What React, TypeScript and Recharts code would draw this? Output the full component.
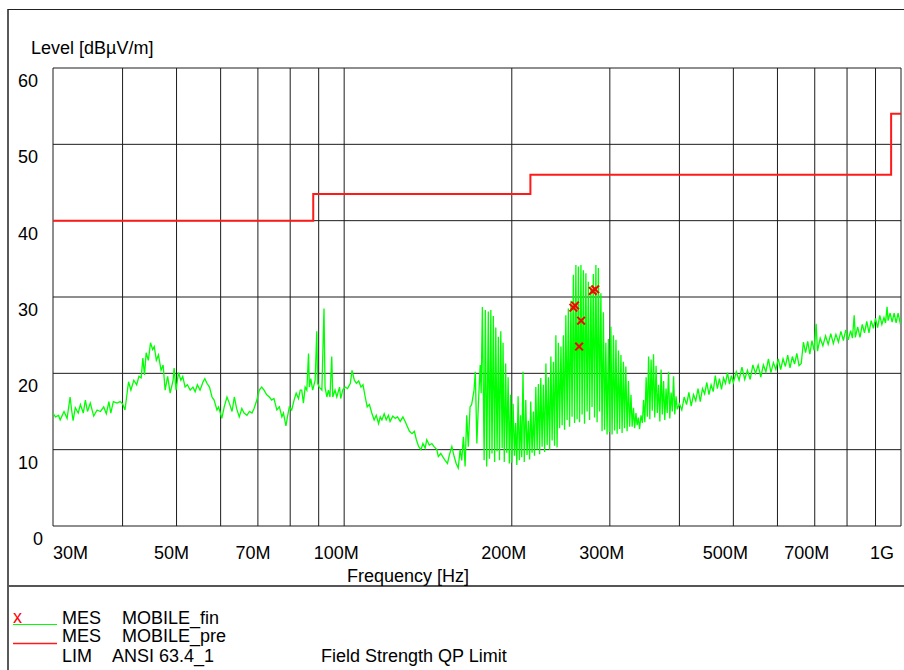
import { CartesianGrid, ComposedChart, Line, Scatter, XAxis, YAxis } from "recharts";

const FONT = "'Liberation Sans', Arial, sans-serif";

const freqTicks = [30, 40, 50, 60, 70, 80, 90, 100, 200, 300, 400, 500, 600, 700, 800, 900, 1000];
const freqLabels: Record<number, string> = {
  30: "30M", 50: "50M", 70: "70M", 100: "100M", 200: "200M",
  300: "300M", 500: "500M", 700: "700M", 1000: "1G",
};
const levelTicks = [0, 10, 20, 30, 40, 50, 60];

// ANSI 63.4 limit, MHz -> dBuV/m
const limitSteps: [number, number][] = [[30, 40], [88, 43.5], [216, 46], [960, 54], [1000, 54]];

// final measurement points
const finalMarks: [number, number][] = [
  [258.0, 28.6], [259.8, 28.9], [264.2, 23.5], [266.4, 26.9], [279.5, 30.8], [282.4, 31.0],
];

// prescan trace (MHz, dBuV/m)
const preScan: [number, number][] = [
  [30.0,14.8],[30.3,14.3],[30.7,14.5],[30.9,13.9],[31.4,15.0],[31.8,14.1],[32.2,16.9],[32.4,15.2],[32.6,13.8],[32.9,15.5],
  [33.3,14.8],[33.6,15.9],[34.0,14.8],[34.3,16.5],[34.6,15.0],[35.0,16.1],[35.5,14.4],[36.0,15.2],[36.5,15.0],[37.0,15.6],
  [37.4,14.7],[37.8,16.3],[38.1,14.8],[38.5,16.3],[39.1,16.1],[39.6,16.3],[40.0,16.0],[40.4,15.2],[41.0,18.9],[41.4,17.8],
  [41.9,19.1],[42.4,18.5],[42.8,19.6],[43.2,19.4],[43.5,22.0],[43.8,19.8],[44.1,22.7],[44.5,21.7],[44.9,24.0],[45.3,23.1],
  [45.6,23.5],[46.0,21.7],[46.4,22.4],[46.9,20.4],[47.3,21.1],[47.7,17.8],[48.2,19.6],[48.7,17.4],[49.3,19.1],[49.5,20.7],
  [49.9,17.8],[50.4,20.1],[50.9,19.1],[51.3,19.6],[51.8,18.2],[52.3,18.5],[52.9,17.8],[53.5,18.2],[54.0,17.6],[54.5,18.5],
  [55.1,17.8],[55.8,18.9],[56.2,19.3],[56.7,18.7],[57.3,18.2],[57.9,16.9],[58.4,16.5],[59.1,15.2],[59.5,15.6],[60.3,14.1],
  [60.9,15.6],[61.6,16.9],[62.2,16.1],[62.9,15.0],[63.5,16.9],[64.1,15.4],[64.8,14.3],[65.5,15.4],[66.1,14.8],[66.9,14.5],
  [67.6,15.0],[68.3,14.8],[68.9,15.4],[69.7,16.5],[70.4,17.8],[71.1,18.2],[71.8,17.8],[72.6,17.2],[73.4,16.9],[74.1,16.5],
  [74.8,16.7],[75.7,15.2],[76.5,15.6],[77.3,14.3],[77.8,14.8],[78.6,13.1],[79.1,14.3],[79.7,15.6],[80.5,15.2],[81.3,16.5],
  [82.0,17.4],[82.8,16.7],[83.4,17.8],[83.9,17.8],[84.5,16.1],[85.1,18.2],[85.7,17.8],[86.3,22.6],[86.6,18.2],[87.1,19.3],
  [87.8,17.8],[88.7,19.1],[89.3,25.5],[89.6,18.7],[90.2,18.2],[91.2,17.8],[92.0,28.5],[92.4,18.2],[93.1,16.9],[93.7,17.8],
  [94.3,16.9],[95.0,22.2],[95.4,16.9],[96.3,17.8],[97.0,16.9],[98.1,18.2],[98.6,16.7],[99.4,17.8],[100.4,18.2],[101.4,18.0],
  [102.6,18.7],[103.3,20.4],[104.3,19.1],[105.2,18.7],[106.2,19.0],[107.2,18.2],[108.1,18.5],[109.1,16.9],[110.0,15.6],[111.0,15.9],
  [112.1,14.8],[113.2,13.9],[114.2,14.5],[115.3,13.4],[116.1,14.3],[116.9,13.9],[118.0,14.7],[119.0,13.9],[120.1,14.5],[120.9,13.7],
  [122.3,14.4],[123.5,14.1],[124.7,14.3],[126.1,13.7],[127.5,14.3],[128.7,13.7],[129.9,13.0],[131.0,12.4],[132.4,12.1],[133.7,12.4],
  [134.8,11.3],[136.1,10.4],[137.4,10.0],[138.5,10.8],[139.8,10.2],[140.7,11.3],[142.2,10.6],[143.7,10.8],[145.0,10.4],[146.7,10.0],
  [147.6,9.1],[149.1,9.5],[150.3,9.1],[151.8,8.6],[153.3,8.2],[154.5,9.3],[156.1,10.4],[157.6,9.1],[158.9,8.2],[160.3,7.6],
  [161.5,10.0],[162.6,8.6],[163.7,11.7],[164.9,7.8],[166.0,14.5],[167.1,10.4],[168.3,15.6],[169.4,15.9],[171.1,17.8],[172.0,20.2],
  [173.1,10.8],[174.2,15.9],[175.5,21.1],[176.2,17.4],[177.1,28.7],[178.4,8.6],[179.3,28.3],[180.3,7.8],[181.5,28.1],[182.4,8.8],
  [183.4,28.3],[184.3,9.5],[185.3,27.5],[186.3,8.4],[187.2,26.0],[188.2,9.8],[189.2,24.8],[190.1,8.6],[191.1,25.5],[192.2,10.2],
  [192.9,24.0],[193.9,8.4],[195.0,21.3],[195.9,9.6],[197.0,19.5],[198.0,8.2],[199.0,17.2],[200.0,8.3],[201.1,16.0],[202.2,9.2],
  [203.2,13.5],[204.2,8.0],[205.3,17.0],[206.4,8.6],[207.4,14.5],[208.4,9.0],[209.5,20.2],[210.6,8.4],[211.9,16.5],[213.0,9.3],
  [214.2,13.8],[215.3,8.7],[216.3,16.3],[217.5,9.6],[218.7,15.0],[219.7,9.2],[220.9,18.2],[222.1,10.0],[223.3,18.6],[224.4,9.4],
  [225.5,19.4],[226.7,10.4],[227.9,18.5],[229.1,9.7],[230.3,21.3],[231.5,10.6],[232.7,19.5],[233.9,10.0],[235.1,22.2],[236.3,11.2],
  [237.6,21.5],[238.7,10.5],[240.0,25.0],[241.2,10.3],[242.5,24.0],[243.7,12.8],[245.1,23.5],[246.3,13.2],[247.6,25.0],[248.8,12.6],
  [250.1,27.6],[251.4,13.9],[252.7,28.5],[254.0,13.0],[255.4,29.5],[256.6,14.3],[258.0,32.9],[259.3,13.5],[260.7,34.2],[262.0,14.0],
  [263.4,34.0],[264.7,13.6],[266.2,34.2],[267.5,14.6],[268.9,33.5],[270.2,13.4],[271.7,33.1],[273.1,15.0],[274.5,32.0],[275.9,13.9],
  [277.4,31.4],[278.7,15.6],[280.2,33.0],[281.6,14.2],[283.2,34.2],[284.6,13.6],[286.1,33.8],[287.5,15.0],[289.1,30.5],[290.5,12.4],
  [292.1,28.0],[293.5,12.6],[295.1,24.0],[296.6,12.0],[298.2,24.5],[299.6,12.3],[301.3,26.1],[302.8,12.0],[304.5,25.0],[306.0,12.5],
  [307.7,24.4],[309.2,12.1],[310.9,23.0],[312.4,12.7],[314.1,22.4],[315.6,12.2],[317.3,21.5],[318.8,12.8],[320.5,20.9],[322.2,12.4],
  [324.0,19.0],[325.6,13.0],[327.4,17.2],[329.0,13.0],[330.8,15.5],[332.4,12.8],[334.2,14.8],[335.8,13.2],[337.6,14.2],[339.2,12.7],
  [341.3,14.5],[343.2,13.5],[344.9,16.5],[346.7,13.6],[348.6,19.5],[350.3,14.3],[352.2,22.2],[353.9,14.0],[355.8,21.8],[357.5,15.1],
  [359.4,22.5],[361.2,14.2],[363.2,21.0],[365.0,14.8],[367.0,18.5],[368.9,13.7],[370.8,20.5],[372.7,14.6],[374.7,19.0],[376.5,13.9],
  [378.5,18.0],[380.3,14.8],[382.4,20.2],[384.4,14.1],[386.5,17.5],[388.4,15.0],[390.5,19.6],[392.4,14.6],[394.5,17.0],[396.5,15.3],
  [400,16.0],[404,15.2],[408,16.9],[412,15.9],[416,17.5],[420,15.7],[424,17.2],[428,16.4],[432,18.0],[436,16.3],
  [440,18.0],[444,17.3],[448,18.8],[452,17.2],[456,18.5],[460,17.6],[464,19.7],[468,18.0],[472,19.3],[476,17.9],
  [480,19.4],[484,18.7],[488,20.1],[492,18.6],[496,19.7],[500,18.8],[506,20.2],[512,19.1],[518,20.8],[524,19.2],
  [530,20.4],[536,19.2],[542,21.1],[548,20.0],[554,21.1],[560,19.5],[566,21.1],[572,20.2],[578,21.9],[584,20.1],
  [590,21.4],[596,20.5],[602,21.9],[608,20.5],[614,21.9],[620,20.9],[626,22.4],[632,20.7],[638,22.2],[644,21.2],
  [650,22.6],[656,21.0],[662,21.3],[668,24.1],[674,22.7],[680,24.2],[686,22.5],[692,24.3],[698,23.0],[704,26.5],
  [708,22.9],[716,24.6],[724,23.6],[732,24.9],[740,23.8],[748,25.2],[756,23.9],[764,25.1],[772,24.1],[780,25.5],
  [788,24.3],[796,25.7],[804,24.4],[812,25.6],[818,24.6],[824,27.6],[828,24.7],[836,26.1],[844,24.7],[852,26.4],
  [860,25.3],[868,26.8],[876,25.3],[884,26.9],[892,25.9],[900,27.2],[908,26.0],[916,27.6],[924,26.4],[932,27.3],
  [938,26.6],[944,28.7],[948,26.9],[956,27.9],[964,26.7],[972,27.9],[980,26.6],[988,27.9],[996,26.7],[1000,27.1],
];

const toRows = (pts: [number, number][]) => pts.map(([f, v]) => ({ f, v }));

function FreqTick(props: any) {
  const { x, payload } = props;
  const v = payload.value;
  const label = freqLabels[v];
  if (!label) return <g />;
  let anchor: "start" | "middle" | "end" = "middle";
  let tx = x - (label.length > 3 ? 8 : 5);
  if (v === 30) { anchor = "start"; tx = x; }
  if (v === 1000) { anchor = "end"; tx = x - 7; }
  return (
    <text x={tx} y={559} textAnchor={anchor} fontSize={18} fontFamily={FONT} fill="#000">
      {label}
    </text>
  );
}

function LevelTick(props: any) {
  const { y, payload } = props;
  const v = payload.value;
  return (
    <text x={v === 0 ? 43 : 38} y={y + 19} textAnchor="end" fontSize={18} fontFamily={FONT} fill="#000">
      {v}
    </text>
  );
}

function Cross(props: any) {
  const { cx, cy } = props;
  const s = 3.8;
  return (
    <g stroke="#ff0000" strokeWidth={2}>
      <line x1={cx - s} y1={cy - s} x2={cx + s} y2={cy + s} />
      <line x1={cx - s} y1={cy + s} x2={cx + s} y2={cy - s} />
    </g>
  );
}

export default function App() {
  const txt = { fontSize: 18, fontFamily: FONT, fill: "#000" };
  return (
    <div style={{ position: "fixed", left: 0, top: 0, width: 904, height: 670, overflow: "hidden", background: "#fff" }}>
      <ComposedChart width={904} height={670} margin={{ top: 68, right: 3, bottom: 104, left: 0 }}>
        <CartesianGrid stroke="#1c1c1c" strokeWidth={1} />
        <XAxis
          dataKey="f"
          type="number"
          scale="log"
          domain={[30, 1000]}
          ticks={freqTicks}
          interval={0}
          allowDataOverflow
          axisLine={false}
          tickLine={false}
          height={40}
          tick={FreqTick}
        />
        <YAxis
          type="number"
          domain={[0, 60]}
          ticks={levelTicks}
          interval={0}
          allowDataOverflow
          axisLine={false}
          tickLine={false}
          width={53}
          tick={LevelTick}
        />
        <Line data={toRows(preScan)} dataKey="v" stroke="#00ff00" strokeWidth={1.3} dot={false} isAnimationActive={false} />
        <Line data={toRows(limitSteps)} dataKey="v" type="stepAfter" stroke="#ff1a1a" strokeWidth={2} dot={false} isAnimationActive={false} />
        <Scatter data={toRows(finalMarks)} dataKey="v" shape={Cross} isAnimationActive={false} />
      </ComposedChart>
      <svg width={904} height={670} style={{ position: "absolute", left: 0, top: 0, pointerEvents: "none" }}>
        <line x1={8} y1={9.5} x2={904} y2={9.5} stroke="#222" strokeWidth={1} />
        <line x1={8} y1={9} x2={8} y2={670} stroke="#222" strokeWidth={1.5} />
        <line x1={8} y1={586} x2={904} y2={586} stroke="#555" strokeWidth={2} />
        <text x={31} y={54} {...txt}>Level [dBµV/m]</text>
        <text x={347} y={582} {...txt}>Frequency [Hz]</text>
        <text x={13} y={623} {...txt} fill="#ff0000">x</text>
        <line x1={13} y1={624.5} x2={57} y2={624.5} stroke="#00ff00" strokeWidth={1.2} />
        <text x={62} y={623.5} {...txt}>MES</text>
        <text x={122} y={623.5} {...txt}>MOBILE_fin</text>
        <line x1={13} y1={643.5} x2={57} y2={643.5} stroke="#ff1a1a" strokeWidth={1.5} />
        <text x={62} y={641.5} {...txt}>MES</text>
        <text x={122} y={641.5} {...txt}>MOBILE_pre</text>
        <text x={62} y={661.5} {...txt}>LIM</text>
        <text x={112} y={661.5} {...txt}>ANSI 63.4_1</text>
        <text x={321} y={661.5} {...txt}>Field Strength QP Limit</text>
      </svg>
    </div>
  );
}
